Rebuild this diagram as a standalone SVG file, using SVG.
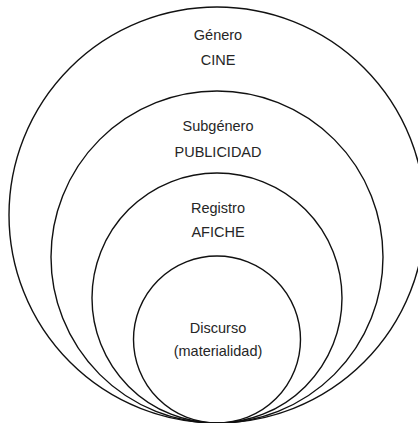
<svg xmlns="http://www.w3.org/2000/svg" width="418" height="423" viewBox="0 0 418 423">
<style>
.c{fill:none;stroke:#111;stroke-width:1.4}
.t{font-family:"Liberation Sans",Arial,sans-serif;font-size:14.5px;fill:#262626;text-anchor:middle}
</style>
<rect width="418" height="423" fill="#fff"/>
<g id="genero">
<circle class="c" cx="217" cy="215" r="208"/>
<text class="t" x="218" y="40">Género</text>
<text class="t" x="218" y="65">CINE</text>
</g>
<g id="subgenero">
<circle class="c" cx="217" cy="257" r="166"/>
<text class="t" x="218" y="131">Subgénero</text>
<text class="t" x="218" y="157">PUBLICIDAD</text>
</g>
<g id="registro">
<circle class="c" cx="217" cy="298" r="125"/>
<text class="t" x="218" y="213">Registro</text>
<text class="t" x="218" y="237">AFICHE</text>
</g>
<g id="discurso">
<circle class="c" cx="217" cy="339.5" r="83.5"/>
<text class="t" x="218" y="333">Discurso</text>
<text class="t" x="218" y="356">(materialidad)</text>
</g>
<g id="connectors"></g>
</svg>
